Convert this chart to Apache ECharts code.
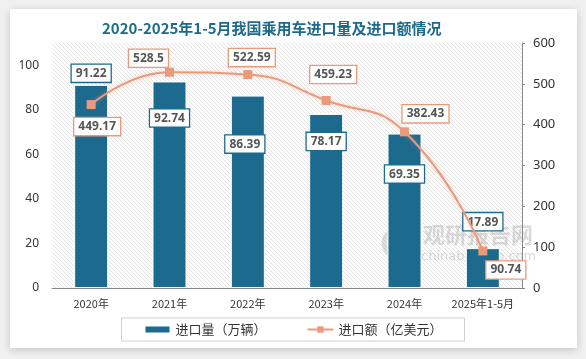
<!DOCTYPE html>
<html><head><meta charset="utf-8">
<script src="https://cdn.jsdelivr.net/npm/echarts@6/dist/echarts.min.js"></script>
<style>html,body{margin:0;padding:0;background:#f0f0f0;}#c{width:586px;height:359px;}</style>
</head><body><div id="c"></div>
<script>
var categories = ['2020年','2021年','2022年','2023年','2024年','2025年1-5月'];
var volume = [91.22, 92.74, 86.39, 78.17, 69.35, 17.89];
var amount = [449.17, 528.5, 522.59, 459.23, 382.43, 90.74];
var leftTicks = [0, 20, 40, 60, 80, 100];
var rightTicks = [0, 100, 200, 300, 400, 500, 600];

var barLabelOffsets = [[0,2],[0,50],[-3,62],[0,41],[0,54],[0,-13]];
var lineLabelOffsets = [[6,22],[-21,-14],[4,-17],[7,-26],[21,-18],[23,19]];

var BLUE = '#1c6a8e', SALMON = '#e99a7b';

var cv = document.createElement('canvas');
cv.width = 4; cv.height = 4;
var cx = cv.getContext('2d');
cx.fillStyle = '#ffffff'; cx.fillRect(0,0,4,4);
cx.strokeStyle = '#e3e3e3'; cx.lineWidth = 1;
cx.beginPath(); cx.moveTo(-1,-1); cx.lineTo(5,5); cx.stroke();
cx.beginPath(); cx.moveTo(-5,-1); cx.lineTo(1,5); cx.stroke();
cx.beginPath(); cx.moveTo(3,-1); cx.lineTo(9,5); cx.stroke();

var labelBase = {fontFamily:'Noto Sans', fontWeight:'bold', fontSize:12, color:'#555555',
  backgroundColor:'#ffffff', padding:[3,4,2,4], borderWidth:1.3};

var chart = echarts.init(document.getElementById('c'));
chart.setOption({
  backgroundColor:'#f0f0f0',
  animation:false,
  graphic:[
    {type:'rect', z:-10, shape:{x:10,y:9,width:567,height:339},
     style:{fill:'#ffffff', shadowBlur:8, shadowColor:'rgba(0,0,0,0.18)', shadowOffsetY:2}},
    {type:'text', left:102, top:21, z:10, style:{text:'2020-2025年1-5月我国乘用车进口量及进口额情况',
      fill:'#1d6a8c', font:'bold 15px "Noto Sans CJK SC"'}},
    {type:'text', left:423, top:224, z:1, style:{text:'观研报告网', fill:'rgba(150,150,150,0.35)', font:'bold 22px "Noto Sans CJK SC"'}},
    {type:'text', left:421, top:250, z:1, style:{text:'chinabaogao.com', fill:'rgba(150,150,150,0.35)', font:'13px "DejaVu Sans"'}},
    {type:'circle', z:1, shape:{cx:397, cy:243, r:13}, style:{fill:'none', stroke:'rgba(150,150,150,0.3)', lineWidth:5}}
  ],
  grid:{left:52, right:64, top:43, bottom:71, show:true, borderWidth:0,
    backgroundColor:{image:cv, repeat:'repeat'}},
  legend:{bottom:18, left:'center', itemGap:40, itemWidth:26, itemHeight:8,
    padding:[5,22,5,22], borderColor:'#d0d0d0', borderWidth:1,
    textStyle:{fontFamily:'Noto Sans CJK SC', fontSize:13, color:'#333'},
    data:[{name:'进口量（万辆）', icon:'rect'}, {name:'进口额（亿美元）'}]},
  xAxis:{type:'category', data:categories,
    axisLine:{lineStyle:{color:'#888', width:1}}, axisTick:{show:false},
    axisLabel:{interval:0, fontFamily:'Noto Sans CJK SC', fontSize:11, color:'#333', margin:10}},
  yAxis:[
    {type:'value', min:leftTicks[0], max:110, interval:leftTicks[1]-leftTicks[0],
     axisLine:{show:false}, axisTick:{show:false}, splitLine:{show:false},
     axisLabel:{showMaxLabel:false, fontFamily:'Noto Sans', fontSize:12, color:'#333', margin:13}},
    {type:'value', min:rightTicks[0], max:rightTicks[rightTicks.length-1], interval:rightTicks[1]-rightTicks[0],
     position:'right',
     axisLine:{show:true, lineStyle:{color:'#888'}}, axisTick:{show:true, length:3, lineStyle:{color:'#888'}},
     splitLine:{show:false},
     axisLabel:{fontFamily:'Noto Sans', fontSize:13, color:'#333', margin:11}}
  ],
  series:[
    {name:'进口量（万辆）', type:'bar', yAxisIndex:0, barWidth:34, z:2,
     itemStyle:{color:BLUE, borderColor:'#ffffff', borderWidth:1},
     data: volume.map(function(v,i){ return {value:v, label:Object.assign({show:true, position:'top',
        distance:5, offset:barLabelOffsets[i], borderColor:BLUE}, labelBase)}; })},
    {name:'进口额（亿美元）', type:'line', yAxisIndex:1, smooth:0.5, z:3,
     symbol:'rect', symbolSize:9,
     lineStyle:{color:SALMON, width:2, shadowColor:'rgba(233,154,123,0.5)', shadowBlur:5},
     itemStyle:{color:SALMON},
     data: amount.map(function(v,i){ return {value:v, label:Object.assign({show:true, position:'inside',
        offset:lineLabelOffsets[i], borderColor:SALMON}, labelBase)}; })}
  ]
});
</script></body></html>
